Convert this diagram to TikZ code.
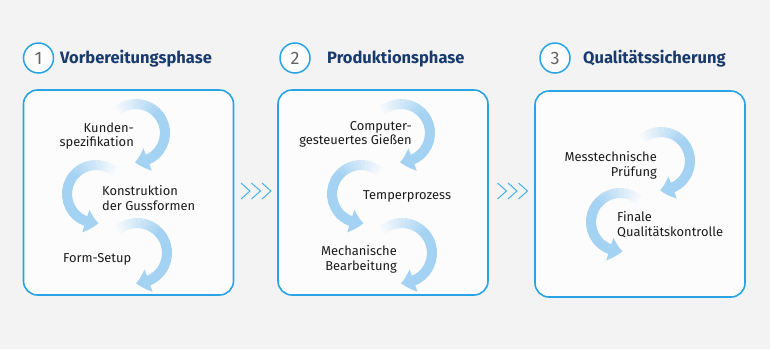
\documentclass[tikz,border=0pt]{standalone}
\usepackage{fontspec}
\setmainfont{Fira Sans}
\usepackage{tikz}
\usetikzlibrary{arrows.meta, bending, positioning, calc}
\definecolor{pagebg}{RGB}{243,243,243}
\definecolor{boxfill}{RGB}{252,252,253}
\definecolor{boxblue}{RGB}{40,164,228}
\definecolor{flowblue}{RGB}{164,210,242}
\definecolor{titlenavy}{RGB}{24,58,108}
\definecolor{numgray}{RGB}{100,100,100}
\definecolor{inktext}{RGB}{28,28,28}
\tikzset{
  phasebox/.style={rectangle, draw=boxblue, fill=boxfill, rounded corners=14pt,
    line width=1.6pt, minimum width=210pt, minimum height=205pt},
  numcircle/.style={circle, draw=boxblue, fill=boxfill, line width=1.5pt,
    minimum size=30pt, inner sep=0pt, text=numgray,
    font=\fontsize{18}{20}\selectfont},
  phasetitle/.style={anchor=west, inner sep=0pt, text=titlenavy,
    font=\fontsize{16.5}{18}\selectfont\bfseries},
  steptext/.style={inner sep=0pt, text=inktext,
    font=\fontsize{12.9}{14.6}\selectfont},
  flowband/.style={line width=10pt},
  chevron/.style={draw=boxblue!85, line width=1pt}
}
% curved arrow that fades in: centre, start angle, end angle, radius
\newcommand{\flowarc}[4]{%
  \pgfmathsetmacro{\fadeend}{#2+0.4*(#3-#2)}
  \foreach \k in {1,...,14}{
    \pgfmathsetmacro{\aa}{#2+(\fadeend-#2)*(\k-1)/14}
    \pgfmathsetmacro{\ab}{#2+(\fadeend-#2)*\k/14+0.6*sign(#3-#2)}
    \pgfmathtruncatemacro{\pc}{7*\k}
    \draw[flowband, draw=flowblue!\pc!boxfill] ($#1+(\aa:#4)$) arc[start angle=\aa, end angle=\ab, radius=#4];
  }
  \draw[flowband, draw=flowblue, -{Triangle[width=23pt,length=13pt,bend]}]
    ($#1+(\fadeend:#4)$) arc[start angle=\fadeend, end angle=#3, radius=#4];
}
% three chevrons, left tip x, middle y
\newcommand{\chevrons}[2]{%
  \foreach \d in {0,10.5,21}{
    \draw[chevron] (#1+\d,#2+8) -- (#1+\d+9,#2) -- (#1+\d,#2-8);
  }
}

\begin{document}
\begin{tikzpicture}[x=1pt, y=1pt]
  \fill[pagebg] (0,0) rectangle (770,-349);
  \useasboundingbox (0,0) rectangle (770,-349);

  % headers
  \node[numcircle] (num1) at (38.5,-58) {1};
  \node[numcircle] (num2) at (295,-58) {2};
  \node[numcircle] (num3) at (555,-58) {3};
  \node[phasetitle] (title1) at (60,-59) {Vorbereitungsphase};
  \node[phasetitle] (title2) at (327,-59) {Produktionsphase};
  \node[phasetitle] (title3) at (583,-59) {Qualitätssicherung};

  % phase boxes
  \node[phasebox] (box1) at (128.5,-192.5) {};
  \node[phasebox] (box2) at (383,-192.5) {};
  \node[phasebox, minimum height=206pt] (box3) at (640,-194) {};

  % chevrons between the boxes
  \chevrons{241}{-191}
  \chevrons{497.5}{-191}

  % phase 1
  \flowarc{(136,-133)}{130}{-92}{29}
  \flowarc{(96,-194)}{50}{275}{29}
  \flowarc{(137,-253)}{130}{-92}{30}
  \node[steptext, anchor=east, align=right] (kunden) at (134,-136) {Kunden-\\spezifikation};
  \node[steptext, anchor=west, align=left] (konstr) at (102,-198) {Konstruktion\\der Gussformen};
  \node[steptext, anchor=west] (setup) at (63,-259) {Form-Setup};

  % phase 2
  \flowarc{(401,-133)}{130}{-92}{29}
  \flowarc{(361,-194)}{50}{275}{29}
  \flowarc{(402,-253)}{130}{-92}{30}
  \node[steptext, anchor=east, align=right] (giessen) at (412,-134.5) {Computer-\\gesteuertes Gießen};
  \node[steptext, anchor=west] (temper) at (363,-196) {Temperprozess};
  \node[steptext, anchor=east, align=right] (mechan) at (397,-259.5) {Mechanische\\Bearbeitung};

  % phase 3
  \flowarc{(661,-161)}{130}{-92}{29}
  \flowarc{(620,-222)}{50}{275}{29}
  \node[steptext, anchor=east, align=right] (messt) at (657,-165.5) {Messtechnische\\Prüfung};
  \node[steptext, anchor=west, align=left] (finale) at (617,-224.5) {Finale\\Qualitätskontrolle};
\end{tikzpicture}
\end{document}
